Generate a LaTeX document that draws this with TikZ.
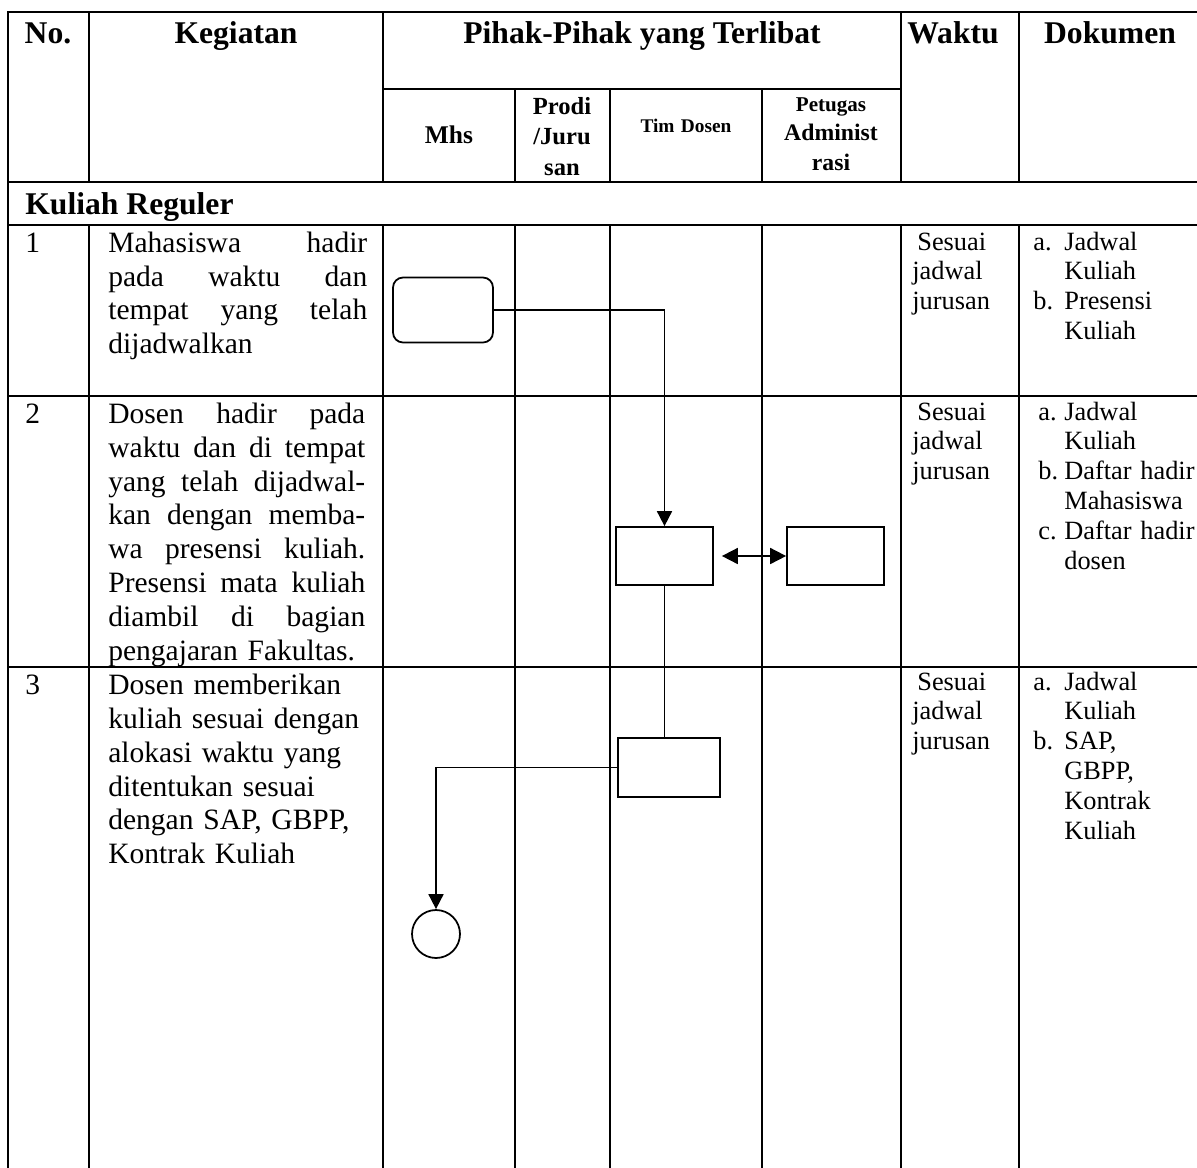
\documentclass[tikz,border=0pt]{standalone}
\usepackage{fontspec}
\setmainfont{Liberation Serif}
\usetikzlibrary{arrows.meta,positioning}
\newcommand{\jl}[1]{\makebox[\linewidth][s]{\spaceskip=.25em plus 1fil\relax #1}\\}
\newcommand{\dk}[3][0.62cm]{\makebox[#1][l]{#2}#3}
\newcommand{\dkc}[2][0.62cm]{\hspace*{#1}#2}

\begin{document}
\begin{tikzpicture}[x=0.02cm,y=-0.02cm,
    grid/.style={line width=1.2pt,line cap=rect},
    flow/.style={line width=1pt},
    arrow/.style={flow,-{Triangle[length=3mm,width=3mm]}},
    both/.style={flow,{Triangle[length=3.2mm,width=3.2mm]}-{Triangle[length=3.2mm,width=3.2mm]}},
    head/.style={font=\fontsize{18}{21}\selectfont\bfseries,inner sep=0pt,anchor=base},
    sub/.style={font=\fontsize{14.5}{17.6}\selectfont\bfseries,inner sep=0pt,anchor=base,
      text width=1.8cm,align=center},
    body/.style={font=\fontsize{16.8}{19.35}\selectfont,inner sep=0pt,anchor=base west,align=left},
    note/.style={font=\fontsize{15}{17}\selectfont,inner sep=0pt,anchor=base west,align=left},
    proc/.style={draw,line width=1pt,minimum width=1.94cm,minimum height=1.16cm,inner sep=0pt}
  ]
    \useasboundingbox (0,0) rectangle (1197,1167);

    \draw[grid] (8,12) -- (1197,12);
    \draw[grid] (383,89) -- (901,89);
    \draw[grid] (8,182) -- (1197,182);
    \draw[grid] (8,225) -- (1197,225);
    \draw[grid] (8,396) -- (1197,396);
    \draw[grid] (8,667) -- (1197,667);
    \draw[grid] (8,12) -- (8,1167);
    \foreach \x in {89,383,901,1019} {
      \draw[grid] (\x,12) -- (\x,182);
      \draw[grid] (\x,225) -- (\x,1167);
    }
    \foreach \x in {515,610,762} {
      \draw[grid] (\x,89) -- (\x,182);
      \draw[grid] (\x,225) -- (\x,1167);
    }

    \node[head] (no) at (48,43) {No.};
    \node[head] (kegiatan) at (236,43) {Kegiatan};
    \node[head] (pihak) at (642,43) {Pihak-Pihak yang Terlibat};
    \node[head] (waktu) at (953,43) {Waktu};
    \node[head] (dokumen) at (1110,43) {Dokumen};

    \node[sub] (mhs) at (449,143) {Mhs};
    \node[sub,font=\fontsize{14}{17.6}\selectfont\bfseries] (prodi) at (562,114) {Prodi\\/Juru\\san};
    \node[sub,font=\fontsize{11}{13}\selectfont\bfseries,text width=2.8cm] (tim) at (686,132) {Tim Dosen};
    \node[sub,font=\fontsize{13.5}{17}\selectfont\bfseries,text width=2.6cm] (petugas) at (831,111)
      {{\fontsize{12}{17}\selectfont Petugas}\\Administ\\rasi};

    \node[head,anchor=base west] (reguler) at (25,214) {Kuliah Reguler};

    \node[body] (n1) at (25,252) {1};
    \node[body] (n2) at (25,423) {2};
    \node[body] (n3) at (25,694) {3};

    \node[body,text width=5.18cm] (k1) at (108,252)
      {\jl{Mahasiswa hadir}\jl{pada waktu dan}\jl{tempat yang telah}dijadwalkan};
    \node[body,text width=5.14cm] (k2) at (108,423)
      {\jl{Dosen hadir pada}\jl{waktu dan di tempat}\jl{yang telah dijadwal-}\jl{kan dengan memba-}%
       \jl{wa presensi kuliah.}\jl{Presensi mata kuliah}\jl{diambil di bagian}pengajaran Fakultas.};
    \node[body,text width=5.4cm] (k3) at (108,694)
      {Dosen memberikan\\kuliah sesuai dengan\\alokasi waktu yang\\ditentukan sesuai\\dengan SAP, GBPP,\\Kontrak Kuliah};

    \node[note,text width=2.2cm] (w1) at (912,250) {\hspace*{0.1cm}Sesuai\\jadwal\\jurusan};
    \node[note,text width=2.2cm] (w2) at (912,420) {\hspace*{0.1cm}Sesuai\\jadwal\\jurusan};
    \node[note,text width=2.2cm] (w3) at (912,690) {\hspace*{0.1cm}Sesuai\\jadwal\\jurusan};

    \node[note,text width=3.3cm] (d1) at (1033,250)
      {\dk{a.}{Jadwal}\\\dkc{Kuliah}\\\dk{b.}{Presensi}\\\dkc{Kuliah}};
    \node[note,text width=3.2cm] (d2) at (1038,420)
      {\dk[0.52cm]{a.}{Jadwal}\\\dkc[0.52cm]{Kuliah}\\\dk[0.52cm]{b.}{Daftar hadir}\\%
       \dkc[0.52cm]{Mahasiswa}\\\dk[0.52cm]{c.}{Daftar hadir}\\\dkc[0.52cm]{dosen}};
    \node[note,text width=3.3cm] (d3) at (1033,690)
      {\dk{a.}{Jadwal}\\\dkc{Kuliah}\\\dk{b.}{SAP,}\\\dkc{GBPP,}\\\dkc{Kontrak}\\\dkc{Kuliah}};

    \node[proc,rounded corners=0.2cm,minimum width=2cm,minimum height=1.3cm] (mulai) at (443,310) {};
    \node[proc] (hadir) at (664.5,556) {};
    \node[proc] (admin) at (835.5,556) {};
    \node[proc,minimum width=2.04cm,minimum height=1.18cm] (beri) at (669,767.5) {};
    \node[draw,circle,line width=1pt,minimum size=0.96cm,inner sep=0pt] (selesai) at (436,934) {};

    \draw[arrow] (mulai.east) -| (hadir.north);
    \draw[both] ([xshift=0.16cm]hadir.east) -- (admin.west);
    \draw[flow] (hadir.south) -- (hadir.south |- beri.north);
    \draw[arrow] (beri.west) -| (selesai.north);
  \end{tikzpicture}
\end{document}
